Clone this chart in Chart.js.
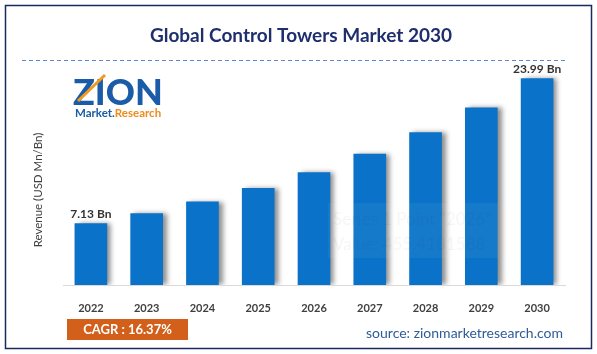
<!DOCTYPE html>
<html>
<head>
<meta charset="utf-8">
<script src="https://cdn.jsdelivr.net/npm/chart.js@4"></script>
<style>
    html, body { margin: 0; padding: 0; background: #fff; }
    #wrap { width: 597px; height: 354px; position: relative; }
</style>
</head>
<body>
<div id="wrap"><canvas id="market-chart" width="597" height="354"></canvas></div>
<script>
// Global Control Towers Market 2030 - revenue by year (USD Bn)
const years = ['2022', '2023', '2024', '2025', '2026', '2027', '2028', '2029', '2030'];
const revenue = [7.13, 8.30, 9.66, 11.24, 13.08, 15.22, 17.71, 20.61, 23.99];
const labelledYears = ['2022', '2030'];
const cagrText = 'CAGR : 16.37%';
const sourceText = 'source: zionmarketresearch.com';
const titleText = 'Global Control Towers Market 2030';
const yAxisTitle = 'Revenue (USD Mn/Bn)';

const FONT = 'Lato, "Open Sans", sans-serif';

// frame, title, dashed rule, logo, footer
const decorPlugin = {
    id: 'decor',
    beforeDraw(chart) {
        const c = chart.ctx;
        c.save();
        c.fillStyle = '#fff';
        c.fillRect(0, 0, chart.width, chart.height);
        c.strokeStyle = '#1a2a5e';
        c.lineWidth = 1.5;
        c.strokeRect(5.5, 5.5, 586, 343);

        c.fillStyle = '#1f2f6e';
        c.font = 'bold 19px ' + FONT;
        c.textAlign = 'center';
        c.textBaseline = 'middle';
        c.fillText(titleText, 301, 36);

        c.strokeStyle = '#5b86d6';
        c.lineWidth = 1;
        c.setLineDash([4, 3]);
        c.beginPath();
        c.moveTo(22, 60.5);
        c.lineTo(565, 60.5);
        c.stroke();
        c.setLineDash([]);

        // logo
        c.textAlign = 'left';
        c.textBaseline = 'alphabetic';
        c.font = '900 36px ' + FONT;
        c.fillStyle = '#1a5ca8';
        c.fillText('ZION', 73, 105);
        c.strokeStyle = '#f29a1f';
        c.lineWidth = 3;
        c.beginPath();
        c.moveTo(78, 101);
        c.lineTo(105, 75);
        c.stroke();
        c.font = 'bold 11.5px ' + FONT;
        c.fillStyle = '#1a5ca8';
        c.fillText('Market.', 75, 117);
        const w = c.measureText('Market.').width;
        c.fillStyle = '#ef8a1c';
        c.fillText('Research', 75 + w, 117);

        // y axis title
        c.save();
        c.translate(38, 190);
        c.rotate(-Math.PI / 2);
        c.textAlign = 'center';
        c.textBaseline = 'middle';
        c.fillStyle = '#404040';
        c.font = '11.5px ' + FONT;
        c.fillText(yAxisTitle, 0, 0);
        c.restore();

        // CAGR box
        c.fillStyle = '#d2601a';
        c.fillRect(67, 319, 121, 21);
        c.fillStyle = '#fff';
        c.font = 'bold 13px ' + FONT;
        c.textAlign = 'center';
        c.textBaseline = 'middle';
        c.fillText(cagrText, 127.5, 330);

        c.fillStyle = '#2d5c96';
        c.font = '14px ' + FONT;
        c.textAlign = 'right';
        c.fillText(sourceText, 563, 333);
        c.restore();
    },
    beforeDatasetDraw(chart) {
        const c = chart.ctx;
        c.save();
        c.shadowColor = 'rgba(0,0,0,0.45)';
        c.shadowOffsetX = 4;
        c.shadowOffsetY = 0;
        c.shadowBlur = 5;
    },
    afterDatasetDraw(chart) {
        chart.ctx.restore();
    },
    afterDatasetsDraw(chart) {
        const c = chart.ctx;
        const meta = chart.getDatasetMeta(0);
        c.save();
        c.fillStyle = '#333';
        c.font = 'bold 12px ' + FONT;
        c.textAlign = 'center';
        c.textBaseline = 'bottom';
        meta.data.forEach((bar, i) => {
            if (labelledYears.includes(years[i])) {
                c.fillText(revenue[i].toFixed(2) + ' Bn', bar.x, bar.y - 4);
            }
        });
        // faint leftover tooltip seen in the source image
        c.fillStyle = 'rgba(255,255,255,0.05)';
        c.fillRect(328, 203, 170, 55);
        c.fillStyle = 'rgba(0,0,0,0.04)';
        c.font = '17px ' + FONT;
        c.textAlign = 'left';
        c.textBaseline = 'middle';
        c.fillText('Series 1 Point "2026"', 333, 220);
        c.fillText('Value: 455.4181588', 333, 245);
        c.restore();
    }
};

new Chart(document.getElementById('market-chart'), {
    type: 'bar',
    data: {
        labels: years,
        datasets: [{
            data: revenue,
            backgroundColor: '#0a73c9',
            borderWidth: 0,
            barThickness: 32
        }]
    },
    options: {
        responsive: false,
        animation: false,
        events: [],
        layout: { padding: { left: 63, right: 32, top: 70, bottom: 0 } },
        plugins: {
            legend: { display: false },
            tooltip: { enabled: false }
        },
        scales: {
            x: {
                grid: { display: false },
                border: { display: true, color: '#d9d9d9', width: 1 },
                ticks: {
                    color: '#404040',
                    font: { family: FONT, size: 11, weight: 'bold' },
                    padding: 9
                },
                afterFit(scale) { scale.height = 69; }
            },
            y: {
                display: false,
                min: 0,
                max: 25
            }
        }
    },
    plugins: [decorPlugin]
});
</script>
</body>
</html>
